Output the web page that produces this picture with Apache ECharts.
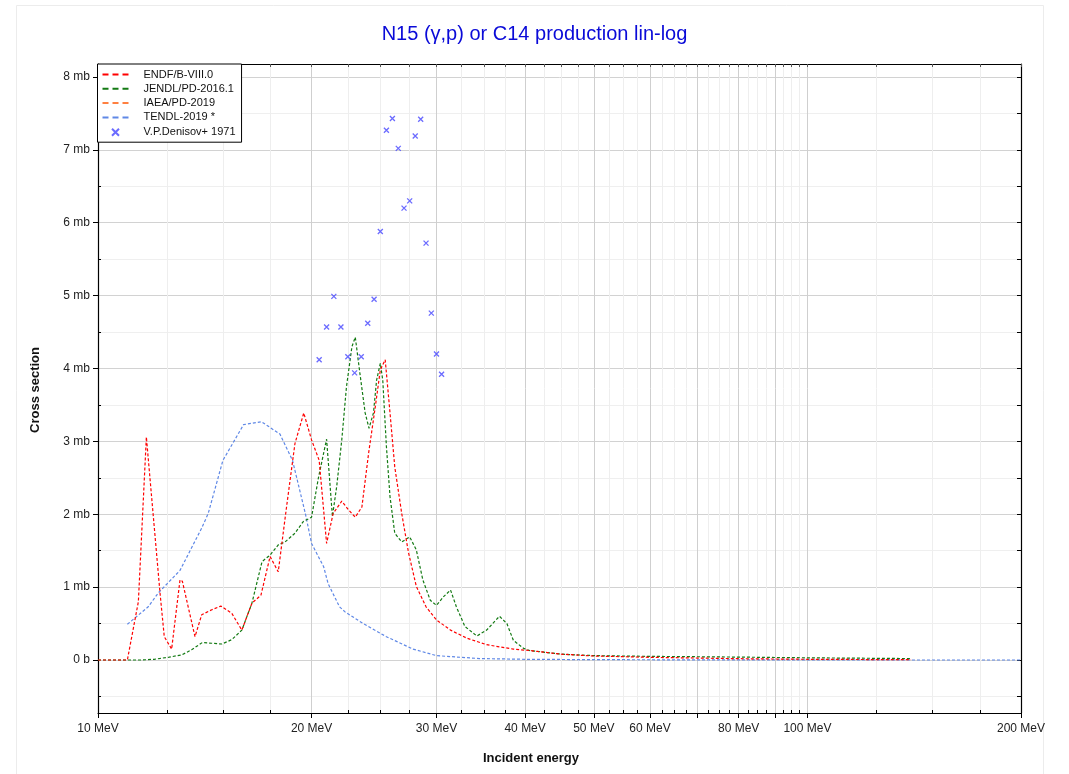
<!DOCTYPE html>
<html><head><meta charset="utf-8">
<script src="https://cdn.jsdelivr.net/npm/echarts@6/dist/echarts.min.js"></script>
<style>html,body{margin:0;padding:0;background:#fff}#c{width:1069px;height:774px}</style>
</head><body><div id="c"></div>
<script>
// ---- data (MeV, mb) ----
const endfE  = [10, 11.0, 11.4, 11.7, 12.23, 12.4, 12.7, 13.05, 13.15, 13.4, 13.7, 14.0, 14.47, 14.9, 15.44, 15.95, 16.48, 16.97, 17.48, 17.95, 18.44, 18.95, 19.5, 20.0, 20.5, 21.0, 21.45, 22.06, 22.55, 23.05, 23.55, 24.07, 24.6, 25.0, 25.4, 25.8, 26.2, 26.8, 27.4, 28.1, 29.0, 30.0, 31.4, 33.1, 35.3, 38.5, 40.6, 45, 50, 60, 70, 80, 100, 140];
const endfXS = [0, 0, 0.8, 3.06, 0.92, 0.32, 0.15, 1.10, 1.08, 0.73, 0.32, 0.62, 0.69, 0.74, 0.64, 0.41, 0.78, 0.89, 1.42, 1.21, 2.10, 2.97, 3.39, 3.02, 2.74, 1.60, 2.01, 2.18, 2.06, 1.96, 2.10, 2.84, 3.48, 3.98, 4.12, 3.39, 2.65, 2.01, 1.47, 1.01, 0.73, 0.55, 0.41, 0.30, 0.21, 0.15, 0.13, 0.08, 0.055, 0.037, 0.027, 0.018, 0.01, 0.004];

const jendlE  = [10, 11.5, 12.0, 12.6, 13.12, 13.55, 14.03, 14.47, 14.95, 15.44, 15.95, 16.48, 17.03, 17.48, 17.95, 18.35, 18.95, 19.47, 20.0, 20.45, 21.0, 21.4, 21.7, 22.06, 22.4, 22.8, 23.05, 23.4, 23.8, 24.1, 24.45, 24.7, 25.0, 25.2, 25.5, 25.8, 26.2, 26.8, 27.5, 28.1, 28.7, 29.4, 30.0, 30.7, 31.4, 32.0, 32.9, 34.2, 35.3, 36.8, 37.7, 38.5, 39.8, 40.6, 45, 50, 60, 70, 80, 100, 140];
const jendlXS = [0, 0, 0.01, 0.04, 0.07, 0.14, 0.24, 0.23, 0.22, 0.28, 0.41, 0.78, 1.35, 1.44, 1.58, 1.62, 1.74, 1.90, 1.96, 2.50, 3.03, 1.97, 2.38, 3.02, 3.75, 4.30, 4.43, 3.93, 3.39, 3.18, 3.39, 3.84, 4.07, 3.84, 2.93, 2.24, 1.74, 1.62, 1.69, 1.51, 1.10, 0.82, 0.75, 0.87, 0.96, 0.73, 0.46, 0.33, 0.41, 0.60, 0.50, 0.27, 0.16, 0.13, 0.08, 0.06, 0.05, 0.045, 0.04, 0.03, 0.02];

const iaeaE  = [];
const iaeaXS = [];

const tendlE  = [11.0, 11.77, 12.16, 13.05, 14.0, 14.3, 15.0, 16.04, 17.0, 18.05, 18.8, 19.6, 20.0, 20.8, 21.1, 21.9, 22.3, 23.65, 25.5, 27.8, 30.0, 34.5, 40, 50, 70, 100, 200];
const tendlXS = [0.49, 0.73, 0.92, 1.23, 1.81, 2.01, 2.74, 3.23, 3.27, 3.10, 2.74, 2.01, 1.60, 1.28, 1.05, 0.73, 0.66, 0.50, 0.32, 0.15, 0.06, 0.02, 0.01, 0.005, 0.002, 0.001, 0.0];

const expE  = [20.5, 21.0, 21.5, 22.0, 22.5, 23.0, 23.5, 24.0, 24.5, 25.0, 25.5, 26.0, 26.5, 27.0, 27.5, 28.0, 28.5, 29.0, 29.5, 30.0, 30.5];
const expXS = [4.12, 4.57, 4.99, 4.57, 4.16, 3.94, 4.16, 4.62, 4.95, 5.88, 7.27, 7.43, 7.02, 6.20, 6.30, 7.19, 7.42, 5.72, 4.76, 4.20, 3.92];

// ---- ticks ----
const xLabelTicks = [10, 20, 30, 40, 50, 60, 80, 100, 200];
const xMajorTicks = [10, 20, 30, 40, 50, 60, 70, 80, 90, 100, 200];
const xMinorTicks = [12.5, 15, 17.5, 22.5, 25, 27.5, 32.5, 35, 37.5, 42.5, 45, 47.5, 52.5, 55, 57.5, 62.5, 65, 67.5, 72.5, 75, 77.5, 82.5, 85, 87.5, 92.5, 95, 97.5, 125, 150, 175];
const yMajorTicks = [0, 1, 2, 3, 4, 5, 6, 7, 8];
const yMinorTicks = [-0.5, 0.5, 1.5, 2.5, 3.5, 4.5, 5.5, 6.5, 7.5];

const pairs = (xs, ys) => xs.map((x, i) => [x, ys[i]]);
const FONT = 'Liberation Sans, Arial, sans-serif';
const X_MIN = 10, X_MAX = 200, Y_MIN = -0.727, Y_MAX = 8.178;

const chart = echarts.init(document.getElementById('c'), null, {renderer: 'canvas'});

const baseX = {type: 'log', logBase: 10, min: X_MIN, max: X_MAX, gridIndex: 0};
const baseY = {type: 'value', min: Y_MIN, max: Y_MAX, gridIndex: 0};
const allX = xMajorTicks.concat(xMinorTicks);
const allY = yMajorTicks.concat(yMinorTicks);

const dashed = (color) => ({color: color, width: 1.2, type: [3, 2]});
// three short dashes in a 26x10 box
const DASH_ICON = 'path://M0,0M26,10M0,4h6v2h-6zM10,4h6v2h-6zM20,4h6v2h-6z';
// smaller cross inside a 10x10 box
const CROSS_ICON = 'path://M0,0M10,10M1.5,1.5L8.5,8.5M8.5,1.5L1.5,8.5';

chart.setOption({
  animation: false,
  backgroundColor: '#fff',
  textStyle: {fontFamily: FONT},
  title: {
    text: 'N15 (γ,p) or C14 production lin-log',
    left: 'center', top: 19,
    textStyle: {color: '#0a0ad8', fontSize: 20, fontWeight: 'normal', fontFamily: FONT}
  },
  grid: {left: 98, right: 48, top: 64, bottom: 61, containLabel: false},
  legend: {
    orient: 'vertical', left: 97.5, top: 64,
    backgroundColor: '#fff', borderColor: '#000', borderWidth: 1,
    padding: [5, 6, 4, 5],
    itemWidth: 26, itemHeight: 10, itemGap: 3.3,
    textStyle: {fontSize: 11, color: '#111', fontFamily: FONT, padding: [0, 0, 0, 10]},
    data: [
      {name: 'ENDF/B-VIII.0', icon: DASH_ICON},
      {name: 'JENDL/PD-2016.1', icon: DASH_ICON},
      {name: 'IAEA/PD-2019', icon: DASH_ICON},
      {name: 'TENDL-2019 *', icon: DASH_ICON},
      {name: 'V.P.Denisov+ 1971', icon: CROSS_ICON}
    ]
  },
  xAxis: [
    Object.assign({}, baseX, {
      position: 'bottom',
      axisLine: {show: true, onZero: false, lineStyle: {color: '#000', width: 1.2}},
      axisTick: {show: true, customValues: xMajorTicks, length: 5, lineStyle: {color: '#000'}},
      axisLabel: {show: true, customValues: xLabelTicks, formatter: (v) => v + ' MeV', fontSize: 12, color: '#222', margin: 10, fontFamily: FONT},
      splitLine: {show: true, lineStyle: {color: '#cfcfcf', width: 1}},
      minorTick: {show: false}, minorSplitLine: {show: false}
    }),
    Object.assign({}, baseX, {
      position: 'bottom',
      axisLine: {show: false, onZero: false},
      axisTick: {show: true, inside: true, customValues: xMinorTicks, length: 3, lineStyle: {color: '#000'}},
      axisLabel: {show: false},
      splitLine: {show: true, lineStyle: {color: '#eeeeee', width: 1}}
    }),
    Object.assign({}, baseX, {
      position: 'top',
      axisLine: {show: true, onZero: false, lineStyle: {color: '#000', width: 1.2}},
      axisTick: {show: true, inside: true, customValues: allX, length: 3, lineStyle: {color: '#555'}},
      axisLabel: {show: false},
      splitLine: {show: false}
    })
  ],
  yAxis: [
    Object.assign({}, baseY, {
      position: 'left',
      axisLine: {show: true, onZero: false, lineStyle: {color: '#000', width: 1.2}},
      axisTick: {show: true, customValues: yMajorTicks, length: 5, lineStyle: {color: '#000'}},
      axisLabel: {show: true, customValues: yMajorTicks, formatter: (v) => v === 0 ? '0 b' : v + ' mb', fontSize: 12, color: '#222', margin: 8, fontFamily: FONT},
      splitLine: {show: true, lineStyle: {color: '#d2d2d2', width: 1}}
    }),
    Object.assign({}, baseY, {
      position: 'left',
      axisLine: {show: false, onZero: false},
      axisTick: {show: true, inside: true, customValues: yMinorTicks, length: 3, lineStyle: {color: '#000'}},
      axisLabel: {show: false},
      splitLine: {show: true, lineStyle: {color: '#efefef', width: 1}}
    }),
    Object.assign({}, baseY, {
      position: 'right',
      axisLine: {show: true, onZero: false, lineStyle: {color: '#000', width: 1.2}},
      axisTick: {show: true, inside: true, customValues: allY, length: 4, lineStyle: {color: '#000'}},
      axisLabel: {show: false},
      splitLine: {show: false}
    })
  ],
  graphic: [
    {type: 'rect', silent: true, z: -10, shape: {x: 16.5, y: 5.5, width: 1027, height: 800}, style: {fill: 'none', stroke: '#ececec', lineWidth: 1}},
    {type: 'text', x: 35, y: 390, rotation: Math.PI / 2, style: {text: 'Cross section', font: 'bold 13px ' + FONT, fill: '#111', textAlign: 'center', textVerticalAlign: 'middle'}},
    {type: 'text', x: 531, y: 758, style: {text: 'Incident energy', font: 'bold 13px ' + FONT, fill: '#111', textAlign: 'center', textVerticalAlign: 'middle'}}
  ],
  series: [
    {name: 'ENDF/B-VIII.0', type: 'line', xAxisIndex: 0, yAxisIndex: 0, data: pairs(endfE, endfXS), symbol: 'none', smooth: false, lineStyle: dashed('#ff0000'), itemStyle: {color: '#ff0000'}, z: 5},
    {name: 'JENDL/PD-2016.1', type: 'line', xAxisIndex: 0, yAxisIndex: 0, data: pairs(jendlE, jendlXS), symbol: 'none', smooth: false, lineStyle: dashed('#137a13'), itemStyle: {color: '#137a13'}, z: 4},
    {name: 'IAEA/PD-2019', type: 'line', xAxisIndex: 0, yAxisIndex: 0, data: pairs(iaeaE, iaeaXS), symbol: 'none', lineStyle: dashed('#ff8040'), itemStyle: {color: '#ff8040'}, z: 3},
    {name: 'TENDL-2019 *', type: 'line', xAxisIndex: 0, yAxisIndex: 0, data: pairs(tendlE, tendlXS), symbol: 'none', smooth: false, lineStyle: dashed('#5f88e6'), itemStyle: {color: '#5f88e6'}, z: 2},
    {name: 'V.P.Denisov+ 1971', type: 'scatter', xAxisIndex: 0, yAxisIndex: 0, data: pairs(expE, expXS),
     symbol: 'path://M0,0L10,10M10,0L0,10', symbolSize: 5,
     itemStyle: {color: '#4646ff', borderColor: '#4646ff', borderWidth: 1.3}, z: 6}
  ]
});
</script>
</body></html>
